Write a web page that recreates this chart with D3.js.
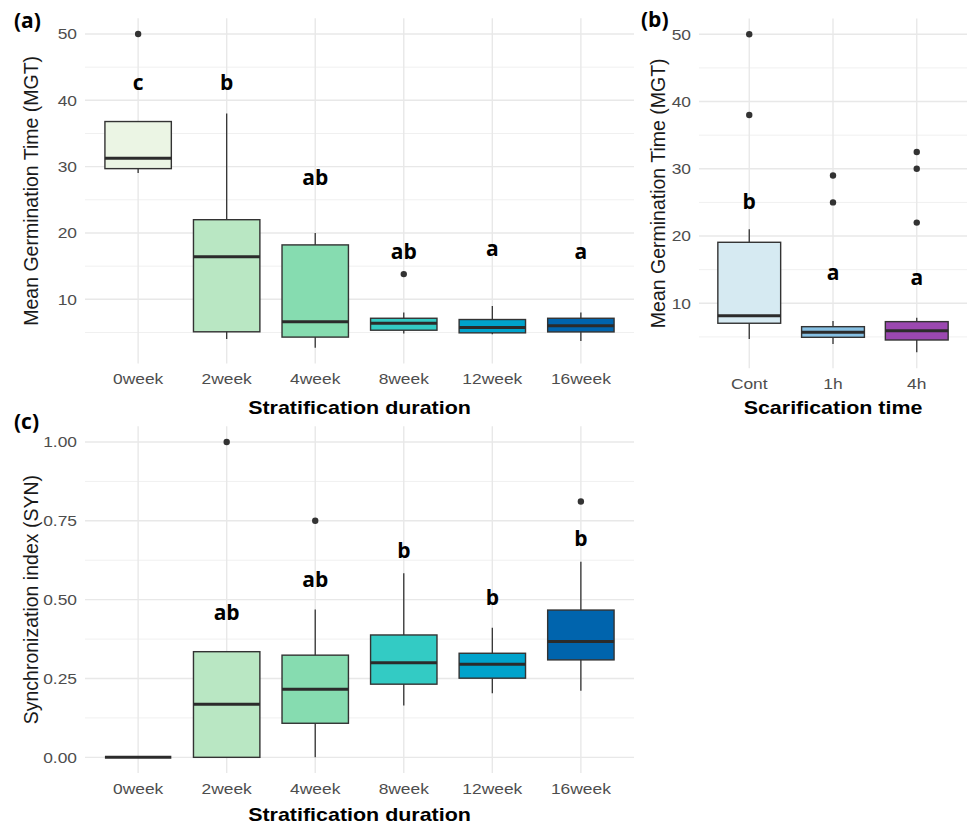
<!DOCTYPE html>
<html>
<head>
<meta charset="utf-8">
<script src="https://cdn.jsdelivr.net/npm/d3@7"></script>
<style>
  body { margin: 0; background: #fff; }
  svg { display: block; }
  .tick-label { font-family: "Liberation Sans", Arial, sans-serif; fill: #4d4d4d; font-size: 15px; }
  .axis-title { font-family: "Liberation Sans", Arial, sans-serif; fill: #1a1a1a; font-size: 19.5px; }
  .x-title { font-family: "Liberation Sans", Arial, sans-serif; fill: #000; font-size: 18.5px; font-weight: bold; }
  .letter { font-family: "Open Sans", sans-serif; font-weight: bold; font-size: 21px; fill: #000; }
  .panel-tag { font-family: "Open Sans", sans-serif; font-weight: bold; font-size: 21px; fill: #000; }
</style>
</head>
<body>
<svg id="chart" width="967" height="827"></svg>
<script>
// (a) Mean germination time by stratification duration
const stratWeeks = ["0week", "2week", "4week", "8week", "12week", "16week"];
const stratColors = ["#ebf5e4", "#b9e7c3", "#86dcb0", "#33cbc4", "#00a3cc", "#0064ad"];

const mgtLower  = [29.05, 4.0, 2.7, 4.85, 4.74, 3.73];
const mgtQ1     = [29.7, 5.1, 4.3, 5.34, 4.94, 5.08];
const mgtMedian = [31.25, 16.4, 6.6, 6.4, 5.74, 6.0];
const mgtQ3     = [36.8, 22.0, 18.2, 7.14, 6.95, 7.14];
const mgtUpper  = [36.8, 38.0, 20.0, 8.0, 9.0, 8.0];
const mgtOutliers = [[50], [], [], [13.8], [], []];
const mgtLetters  = ["c", "b", "ab", "ab", "a", "a"];
const mgtLetterY  = [41.6, 41.6, 27.3, 16.0, 16.5, 16.0];

// (b) Mean germination time by scarification time
const scarTimes = ["Cont", "1h", "4h"];
const scarColors = ["#d6eaf2", "#86c0e3", "#9b48b0"];

const scarLower  = [4.7, 3.95, 2.71];
const scarQ1     = [7.03, 4.94, 4.54];
const scarMedian = [8.16, 5.69, 5.93];
const scarQ3     = [19.07, 6.52, 7.27];
const scarUpper  = [21.0, 7.37, 7.86];
const scarOutliers = [[50, 38], [29, 25], [32.5, 30, 22]];
const scarLetters  = ["b", "a", "a"];
const scarLetterY  = [24.0, 13.4, 12.7];

// (c) Synchronization index by stratification duration
const synLower  = [0, 0, 0, 0.164, 0.203, 0.211];
const synQ1     = [0, 0, 0.108, 0.232, 0.251, 0.309];
const synMedian = [0, 0.168, 0.216, 0.300, 0.295, 0.367];
const synQ3     = [0, 0.335, 0.324, 0.388, 0.330, 0.467];
const synUpper  = [0, 0.335, 0.469, 0.584, 0.411, 0.620];
const synOutliers = [[], [1.0], [0.75], [], [], [0.811]];
const synLetters  = ["", "ab", "ab", "b", "b", "b"];
const synLetterY  = [0, 0.435, 0.541, 0.631, 0.483, 0.670];

const mgtTicks = [10, 20, 30, 40, 50];
const mgtMinor = [5, 15, 25, 35, 45];
const synTicks = [0, 0.25, 0.5, 0.75, 1];
const synMinor = [0.125, 0.375, 0.625, 0.875];

// The source image is a little wider than tall, so horizontal text is stretched
const STRETCH = 1.16;

const svg = d3.select("#chart");

// Pack the per-stat arrays into one row per box
function rows(cats, colors, lo, q1, med, q3, hi, outl, letters, letterY) {
  return cats.map((c, i) => ({
    cat: c, color: colors[i], lo: lo[i], q1: q1[i], med: med[i], q3: q3[i], hi: hi[i],
    out: outl[i], letter: letters[i], letterY: letterY[i]
  }));
}

function drawPanel(p) {
  const g = svg.append("g");
  const data = p.data;

  // ggplot style 5% expansion on the continuous axis
  const all = data.flatMap(d => [d.lo, d.hi].concat(d.out));
  const ext = d3.extent(all);
  const pad = (ext[1] - ext[0]) * 0.05;

  const x = d3.scaleBand()
    .domain(data.map(d => d.cat))
    .range([p.left, p.right])
    .paddingOuter(0.1);
  const y = d3.scaleLinear()
    .domain([ext[0] - pad, ext[1] + pad])
    .range([p.bottom, p.top]);

  const cx = d => x(d) + x.bandwidth() / 2;
  const boxW = x.bandwidth() * 0.75;

  // Grid
  g.selectAll("line.minor")
    .data(p.minor)
    .enter()
    .append("line")
    .attr("x1", p.left).attr("x2", p.right)
    .attr("y1", d => y(d)).attr("y2", d => y(d))
    .attr("stroke", "#f0f0f0")
    .attr("stroke-width", 1);

  g.selectAll("line.major")
    .data(p.ticks)
    .enter()
    .append("line")
    .attr("x1", p.left).attr("x2", p.right)
    .attr("y1", d => y(d)).attr("y2", d => y(d))
    .attr("stroke", "#e8e8e8")
    .attr("stroke-width", 1.4);

  g.selectAll("line.vgrid")
    .data(data)
    .enter()
    .append("line")
    .attr("x1", d => cx(d.cat)).attr("x2", d => cx(d.cat))
    .attr("y1", p.top).attr("y2", p.bottom)
    .attr("stroke", "#e8e8e8")
    .attr("stroke-width", 1.4);

  // Tick labels
  g.selectAll("text.ytick")
    .data(p.ticks)
    .enter()
    .append("text")
    .attr("class", "tick-label")
    .attr("transform", d => `translate(${p.left - 8}, ${y(d)}) scale(${STRETCH}, 1)`)
    .attr("dy", "0.35em")
    .attr("text-anchor", "end")
    .text(d => p.fmt(d));

  g.selectAll("text.xtick")
    .data(data)
    .enter()
    .append("text")
    .attr("class", "tick-label")
    .attr("transform", d => `translate(${cx(d.cat)}, ${p.bottom + 21}) scale(${STRETCH}, 1)`)
    .attr("text-anchor", "middle")
    .text(d => d.cat);

  // Whiskers
  g.selectAll("line.whisk")
    .data(data)
    .enter()
    .append("line")
    .attr("x1", d => cx(d.cat)).attr("x2", d => cx(d.cat))
    .attr("y1", d => y(d.lo)).attr("y2", d => y(d.hi))
    .attr("stroke", "#333")
    .attr("stroke-width", 1.3);

  // Boxes
  g.selectAll("rect.box")
    .data(data)
    .enter()
    .append("rect")
    .attr("x", d => cx(d.cat) - boxW / 2)
    .attr("width", boxW)
    .attr("y", d => y(d.q3))
    .attr("height", d => y(d.q1) - y(d.q3))
    .attr("fill", d => d.color)
    .attr("stroke", "#333")
    .attr("stroke-width", 1.4);

  // Medians
  g.selectAll("line.med")
    .data(data)
    .enter()
    .append("line")
    .attr("x1", d => cx(d.cat) - boxW / 2).attr("x2", d => cx(d.cat) + boxW / 2)
    .attr("y1", d => y(d.med)).attr("y2", d => y(d.med))
    .attr("stroke", "#2b2b2b")
    .attr("stroke-width", 3);

  // Outliers
  g.selectAll("circle.out")
    .data(data.flatMap(d => d.out.map(v => ({ cat: d.cat, v: v }))))
    .enter()
    .append("circle")
    .attr("cx", d => cx(d.cat))
    .attr("cy", d => y(d.v))
    .attr("r", 3.2)
    .attr("fill", "#333");

  // Significance letters
  g.selectAll("text.letter")
    .data(data.filter(d => d.letter))
    .enter()
    .append("text")
    .attr("class", "letter")
    .attr("x", d => cx(d.cat))
    .attr("y", d => y(d.letterY))
    .attr("text-anchor", "middle")
    .text(d => d.letter);

  // Axis titles
  g.append("text")
    .attr("class", "axis-title")
    .attr("transform", `translate(${p.yTitleX}, ${(p.top + p.bottom) / 2}) rotate(-90)`)
    .attr("text-anchor", "middle")
    .text(p.yTitle);

  g.append("text")
    .attr("class", "x-title")
    .attr("transform", `translate(${(p.left + p.right) / 2}, ${p.xTitleY}) scale(${STRETCH}, 1)`)
    .attr("text-anchor", "middle")
    .text(p.xTitle);

  g.append("text")
    .attr("class", "panel-tag")
    .attr("x", p.tagX)
    .attr("y", p.tagY)
    .text(p.tag);
}

drawPanel({
  data: rows(stratWeeks, stratColors, mgtLower, mgtQ1, mgtMedian, mgtQ3, mgtUpper, mgtOutliers, mgtLetters, mgtLetterY),
  left: 85, right: 634, top: 18.3, bottom: 363.4,
  ticks: mgtTicks, minor: mgtMinor, fmt: d3.format("d"),
  yTitle: "Mean Germination Time (MGT)", yTitleX: 38,
  xTitle: "Stratification duration", xTitleY: 414,
  tag: "(a)", tagX: 14, tagY: 28
});

drawPanel({
  data: rows(scarTimes, scarColors, scarLower, scarQ1, scarMedian, scarQ3, scarUpper, scarOutliers, scarLetters, scarLetterY),
  left: 699, right: 967, top: 18.4, bottom: 368.2,
  ticks: mgtTicks, minor: mgtMinor, fmt: d3.format("d"),
  yTitle: "Mean Germination Time (MGT)", yTitleX: 665,
  xTitle: "Scarification time", xTitleY: 414,
  tag: "(b)", tagX: 641, tagY: 27
});

drawPanel({
  data: rows(stratWeeks, stratColors, synLower, synQ1, synMedian, synQ3, synUpper, synOutliers, synLetters, synLetterY),
  left: 85, right: 634, top: 426.2, bottom: 773.1,
  ticks: synTicks, minor: synMinor, fmt: d3.format(".2f"),
  yTitle: "Synchronization index (SYN)", yTitleX: 38,
  xTitle: "Stratification duration", xTitleY: 821,
  tag: "(c)", tagX: 14, tagY: 429
});
</script>
</body>
</html>
